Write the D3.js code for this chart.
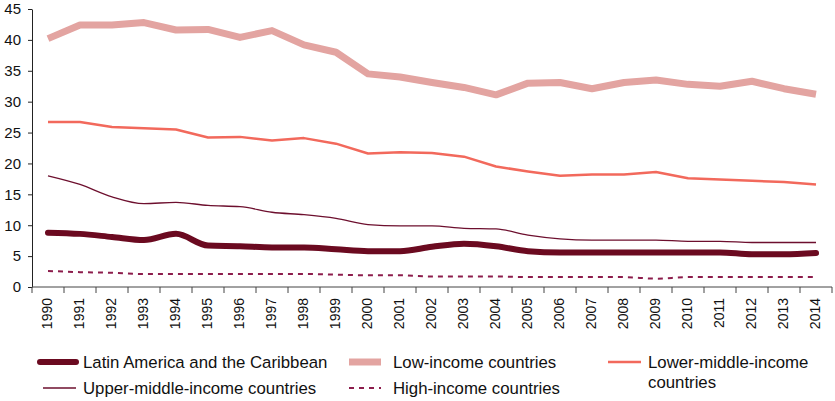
<!DOCTYPE html>
<html>
<head>
<meta charset="utf-8">
<script src="https://cdn.jsdelivr.net/npm/d3@7"></script>
<style>
  body { margin: 0; background: #fff; }
  svg { display: block; font-family: "Liberation Sans", Arial, sans-serif; }
</style>
</head>
<body>
<svg id="chart" width="835" height="401"></svg>
<script>
// data
const years = d3.range(1990, 2015).map(String);

const lac = [8.8, 8.6, 8.1, 7.6, 8.6, 6.7, 6.6, 6.4, 6.4, 6.1, 5.8, 5.8, 6.5, 7.0, 6.6, 5.8, 5.6, 5.6, 5.6, 5.6, 5.6, 5.6, 5.3, 5.3, 5.5];
const lowIncome = [40.2, 42.4, 42.4, 42.8, 41.6, 41.7, 40.4, 41.5, 39.2, 38.0, 34.5, 34.0, 33.1, 32.3, 31.1, 33.0, 33.1, 32.1, 33.1, 33.5, 32.8, 32.5, 33.3, 32.1, 31.2];
const lowerMiddle = [26.7, 26.7, 25.9, 25.7, 25.5, 24.2, 24.3, 23.7, 24.1, 23.2, 21.6, 21.8, 21.7, 21.1, 19.5, 18.7, 18.0, 18.2, 18.2, 18.6, 17.6, 17.4, 17.2, 17.0, 16.6];
const upperMiddle = [18.0, 16.6, 14.6, 13.5, 13.7, 13.2, 13.0, 12.1, 11.7, 11.1, 10.1, 9.9, 9.9, 9.5, 9.4, 8.4, 7.8, 7.6, 7.6, 7.6, 7.4, 7.4, 7.2, 7.2, 7.2];
const highIncome = [2.6, 2.4, 2.3, 2.1, 2.1, 2.1, 2.1, 2.1, 2.1, 2.0, 1.9, 1.9, 1.7, 1.7, 1.7, 1.6, 1.6, 1.6, 1.6, 1.35, 1.6, 1.6, 1.6, 1.6, 1.6];

const yTicks = d3.range(0, 46, 5);

const series = [
  { name: "Low-income countries", values: lowIncome, color: "#e3a4a1", width: 7, dash: null, curve: d3.curveLinear },
  { name: "Lower-middle-income countries", values: lowerMiddle, color: "#f2695c", width: 2.5, dash: null, curve: d3.curveLinear },
  { name: "Upper-middle-income countries", values: upperMiddle, color: "#6d0f2e", width: 1.3, dash: null, curve: d3.curveMonotoneX },
  { name: "Latin America and the Caribbean", values: lac, color: "#6b0a20", width: 6, dash: null, curve: d3.curveMonotoneX },
  { name: "High-income countries", values: highIncome, color: "#8c1d4c", width: 2, dash: "5,5", curve: d3.curveMonotoneX }
];

const svg = d3.select("#chart");
const margin = { left: 32, right: 832, top: 9, bottom: 287 };

const x = d3.scaleBand().domain(years).range([margin.left, margin.right]);
const y = d3.scaleLinear().domain([0, 45]).range([margin.bottom, margin.top]);
const cx = d => x(d) + x.bandwidth() / 2;

// y axis
const yAxis = svg.append("g")
  .attr("transform", `translate(${margin.left},0)`)
  .call(d3.axisLeft(y).tickValues(yTicks).tickSize(4).tickPadding(7).tickSizeOuter(0));
yAxis.select(".domain").attr("stroke", "#222");
yAxis.selectAll(".tick line").attr("stroke", "#222");
yAxis.selectAll("text").attr("font-size", 15).attr("fill", "#111")
  .attr("font-family", "'Liberation Sans', Arial, sans-serif");

// x axis: line, ticks at band edges, rotated labels
const xg = svg.append("g");
xg.append("line")
  .attr("x1", margin.left).attr("x2", margin.right)
  .attr("y1", margin.bottom).attr("y2", margin.bottom)
  .attr("stroke", "#444");
xg.selectAll("line.tk")
  .data(years.map(d => x(d)).concat([margin.right]))
  .join("line")
  .attr("class", "tk")
  .attr("x1", d => d).attr("x2", d => d)
  .attr("y1", margin.bottom).attr("y2", margin.bottom + 6)
  .attr("stroke", "#444");
xg.selectAll("text")
  .data(years)
  .join("text")
  .attr("transform", d => `translate(${cx(d) - 1},${margin.bottom + 11}) rotate(-90)`)
  .attr("text-anchor", "end")
  .attr("dy", "0.35em")
  .attr("font-size", 14)
  .attr("fill", "#111")
  .text(d => d);

// lines
series.forEach(s => {
  const line = d3.line()
    .x((d, i) => cx(years[i]))
    .y(d => y(d))
    .curve(s.curve);
  svg.append("path")
    .datum(s.values)
    .attr("d", line)
    .attr("fill", "none")
    .attr("stroke", s.color)
    .attr("stroke-width", s.width)
    .attr("stroke-dasharray", s.dash)
    .attr("stroke-linejoin", "round")
    .attr("stroke-linecap", s.name.startsWith("Latin") ? "round" : "butt");
});

// legend
const byName = n => series.find(s => s.name === n);
const legendItems = [
  { s: byName("Latin America and the Caribbean"), x0: 40, x1: 76, tx: 83, ty: 362, lines: ["Latin America and the Caribbean"] },
  { s: byName("Low-income countries"), x0: 349, x1: 381, tx: 393, ty: 362, lines: ["Low-income countries"] },
  { s: byName("Lower-middle-income countries"), x0: 608, x1: 641, tx: 648, ty: 362, lines: ["Lower-middle-income", "countries"] },
  { s: byName("Upper-middle-income countries"), x0: 43, x1: 76, tx: 83, ty: 388, lines: ["Upper-middle-income countries"] },
  { s: byName("High-income countries"), x0: 349, x1: 381, tx: 393, ty: 388, lines: ["High-income countries"] }
];

const legend = svg.append("g");
legendItems.forEach(it => {
  legend.append("line")
    .attr("x1", it.x0).attr("x2", it.x1)
    .attr("y1", it.ty).attr("y2", it.ty)
    .attr("stroke", it.s.color)
    .attr("stroke-width", it.s.width)
    .attr("stroke-dasharray", it.s.dash)
    .attr("stroke-linecap", it.s.name.startsWith("Latin") ? "round" : "butt");
  const t = legend.append("text")
    .attr("x", it.tx).attr("y", it.ty)
    .attr("font-size", 16.8)
    .attr("fill", "#111");
  it.lines.forEach((l, i) => {
    t.append("tspan").attr("x", it.tx).attr("dy", i === 0 ? "0.35em" : "1.2em").text(l);
  });
});
</script>
</body>
</html>
